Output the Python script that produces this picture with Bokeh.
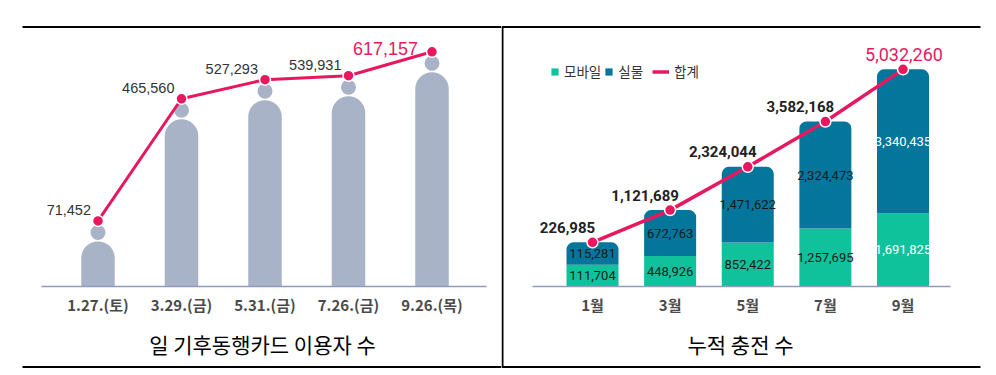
from bokeh.plotting import figure
from bokeh.models import (ColumnDataSource, Range1d, LinearAxis, FixedTicker,
                          Legend, LegendItem, Label)
from bokeh.layouts import row
from bokeh.embed import file_html
from bokeh.resources import INLINE
from bokeh.core.properties import value

# ---------------- data ----------------
user_dates = ["1.27.(토)", "3.29.(금)", "5.31.(금)", "7.26.(금)", "9.26.(목)"]
user_counts = [71452, 465560, 527293, 539931, 617157]
user_title = "일 기후동행카드 이용자 수"

charge_months = ["1월", "3월", "5월", "7월", "9월"]
charge_mobile = [111704, 448926, 852422, 1257695, 1691825]
charge_physical = [115281, 672763, 1471622, 2324473, 3340435]
charge_total = [226985, 1121689, 2324044, 3582168, 5032260]
charge_title = "누적 충전 수"
legend_labels = ["모바일", "실물", "합계"]

# ---------------- styles ----------------
PINK = "#e8185f"
PERSON = "#a9b3c7"
GREEN = "#10c29c"
BLUE = "#05769b"
BASELINE = "#8f9cc0"

H = 375
BASE_PX = 89          # baseline height above the bottom of each figure
TOP_LINE_PX = 348.5   # frame lines, measured from bottom
BOT_LINE_PX = 8.5
TITLE_PX = 32


def make_fig(width, xr, yr):
    p = figure(width=width, height=H, x_range=xr, y_range=yr,
               output_backend="svg", toolbar_location=None, tools="",
               x_axis_location=None, y_axis_location=None, min_border=0,
               outline_line_color=None, background_fill_color="white",
               border_fill_color="white")
    p.grid.visible = False
    return p


# ================= left chart =================
LW = 501
L_X0 = 97.5      # px of first category centre
L_DX = 83.5      # px between categories
L_K = 0.31e-3    # px per person
L_BASE = -140000 # value at the baseline
lu = 1.0 / L_K

lx = lambda px: (px - L_X0) / L_DX
ly = lambda px: L_BASE + (px - BASE_PX) * lu

p1 = make_fig(LW, Range1d(lx(0), lx(LW)), Range1d(ly(0), ly(H)))

xs = list(range(len(user_dates)))
src1 = ColumnDataSource(dict(
    x=xs, v=user_counts,
    body=[v - 20.5 * lu for v in user_counts],
    head=[v - 11.5 * lu for v in user_counts],
    lab=[f"{v:,}" for v in user_counts],
))

p1.vbar(x="x", top="body", bottom=L_BASE, width=33.5 / L_DX, source=src1,
        fill_color=PERSON, line_color=None,
        border_radius=dict(top_left=17, top_right=17, bottom_right=0, bottom_left=0))
p1.scatter(x="x", y="head", size=15, source=src1, fill_color=PERSON, line_color=None)
p1.line(x="x", y="v", source=src1, line_color=PINK, line_width=3)
p1.scatter(x="x", y="v", size=11, source=src1, fill_color=PINK,
           line_color="white", line_width=1.5)

n = len(user_counts)
p1.text(x=xs[:n - 1], y=user_counts[:n - 1], text=src1.data["lab"][:n - 1],
        text_align="right", text_baseline="middle", x_offset=-7, y_offset=-11,
        text_font=value("Liberation Sans"), text_font_size="14.5px", text_color="#333333")
p1.text(x=xs[n - 1:], y=user_counts[n - 1:], text=src1.data["lab"][n - 1:],
        text_align="right", text_baseline="middle", x_offset=-14, y_offset=-3,
        text_font=value("Liberation Sans"), text_font_size="18px", text_color=PINK)

ax1 = LinearAxis(fixed_location=L_BASE, ticker=FixedTicker(ticks=xs),
                 major_label_overrides={i: d for i, d in enumerate(user_dates)},
                 bounds=(lx(41), lx(486)), axis_line_color=BASELINE, axis_line_width=1.5,
                 major_tick_out=0, major_tick_in=0, minor_tick_out=0, minor_tick_in=0,
                 major_label_standoff=7, major_label_text_font="Noto Sans CJK KR",
                 major_label_text_font_size="15px", major_label_text_color="#4a4a4a",
                 major_label_text_font_style="bold")
p1.add_layout(ax1, "below")

# frame lines
p1.segment(x0=[lx(22), lx(22)], x1=[lx(LW), lx(LW)],
           y0=[ly(TOP_LINE_PX), ly(BOT_LINE_PX)], y1=[ly(TOP_LINE_PX), ly(BOT_LINE_PX)],
           line_color="black", line_width=2)
p1.add_layout(Label(x=lx(262), y=ly(TITLE_PX), text=user_title, text_align="center",
                    text_baseline="middle", text_font="Noto Sans CJK KR",
                    text_font_size="21px", text_color="black"))

# ================= right chart =================
RW = 495
R_X0 = 91
R_DX = 77.625
R_K = 3.6e-5
R_BASE = -1000000
ru = 1.0 / R_K

rx = lambda px: (px - R_X0) / R_DX
ry = lambda px: R_BASE + (px - BASE_PX) * ru

p2 = make_fig(RW, Range1d(rx(0), rx(RW)), Range1d(ry(0), ry(H)))

xs2 = list(range(len(charge_months)))
split = [R_BASE + (t - R_BASE) * m / t for m, t in zip(charge_mobile, charge_total)]
src2 = ColumnDataSource(dict(
    x=xs2, mob=charge_mobile, phy=charge_physical, tot=charge_total, split=split,
    mob_y=[(R_BASE + s) / 2 for s in split],
    phy_y=[(s + t) / 2 for s, t in zip(split, charge_total)],
    mob_lab=[f"{v:,}" for v in charge_mobile],
    phy_lab=[f"{v:,}" for v in charge_physical],
    tot_lab=[f"{v:,}" for v in charge_total],
    tcol=["#1a1a1a"] * (len(charge_months) - 1) + ["white"],
))

r_mob = p2.vbar(x="x", bottom=R_BASE, top="split", width=52 / R_DX, source=src2,
                fill_color=GREEN, line_color=None)
r_phy = p2.vbar(x="x", bottom="split", top="tot", width=52 / R_DX, source=src2,
                fill_color=BLUE, line_color=None,
                border_radius=dict(top_left=7, top_right=7, bottom_right=0, bottom_left=0))
r_line = p2.line(x="x", y="tot", source=src2, line_color=PINK, line_width=3.5)
p2.scatter(x="x", y="tot", size=11, source=src2, fill_color=PINK,
           line_color="white", line_width=1.5)

p2.text(x="x", y="mob_y", text="mob_lab", source=src2, text_align="center",
        text_baseline="middle", text_font=value("Roboto"), text_font_size="13px",
        text_color="tcol")
p2.text(x="x", y="phy_y", text="phy_lab", source=src2, text_align="center",
        text_baseline="middle", text_font=value("Roboto"), text_font_size="13px",
        text_color="tcol")

m = len(charge_total)
p2.text(x=xs2[:m - 1], y=charge_total[:m - 1], text=src2.data["tot_lab"][:m - 1],
        text_align="center", text_baseline="middle", x_offset=-25, y_offset=-15,
        text_font=value("Roboto"), text_font_style="bold", text_font_size="15px",
        text_color="#222222")
p2.text(x=xs2[m - 1:], y=charge_total[m - 1:], text=src2.data["tot_lab"][m - 1:],
        text_align="center", text_baseline="middle", x_offset=1, y_offset=-15,
        text_font=value("Roboto"), text_font_size="18px", text_color=PINK)

ax2 = LinearAxis(fixed_location=R_BASE, ticker=FixedTicker(ticks=xs2),
                 major_label_overrides={i: d for i, d in enumerate(charge_months)},
                 bounds=(rx(31), rx(449)), axis_line_color=BASELINE, axis_line_width=1.5,
                 major_tick_out=0, major_tick_in=0, minor_tick_out=0, minor_tick_in=0,
                 major_label_standoff=7, major_label_text_font="Noto Sans CJK KR",
                 major_label_text_font_size="15px", major_label_text_color="#4a4a4a",
                 major_label_text_font_style="bold")
p2.add_layout(ax2, "below")

leg1 = Legend(items=[LegendItem(label=legend_labels[0], renderers=[r_mob]),
                     LegendItem(label=legend_labels[1], renderers=[r_phy])],
              location=(49, 294), orientation="horizontal", glyph_width=9, glyph_height=9,
              label_standoff=5, spacing=3, padding=0, margin=0, border_line_color=None,
              background_fill_alpha=0, label_text_font="Noto Sans CJK KR",
              label_text_font_size="13.5px", label_text_color="#333333", label_width=10)
leg2 = Legend(items=[LegendItem(label=legend_labels[2], renderers=[r_line])],
              location=(151, 294), orientation="horizontal", glyph_width=17, glyph_height=9,
              label_standoff=5, spacing=3, padding=0, margin=0, border_line_color=None,
              background_fill_alpha=0, label_text_font="Noto Sans CJK KR",
              label_text_font_size="13.5px", label_text_color="#333333", label_width=10)
p2.add_layout(leg1, "center")
p2.add_layout(leg2, "center")

# frame lines
p2.segment(x0=[rx(0), rx(0), rx(1)], x1=[rx(479), rx(479), rx(1)],
           y0=[ry(TOP_LINE_PX), ry(BOT_LINE_PX), ry(BOT_LINE_PX)],
           y1=[ry(TOP_LINE_PX), ry(BOT_LINE_PX), ry(TOP_LINE_PX)],
           line_color="black", line_width=2)
p2.add_layout(Label(x=rx(239), y=ry(TITLE_PX), text=charge_title, text_align="center",
                    text_baseline="middle", text_font="Noto Sans CJK KR",
                    text_font_size="21px", text_color="black"))

layout = row(p1, p2, spacing=0)
open("out.html", "w").write(file_html(layout, INLINE))
